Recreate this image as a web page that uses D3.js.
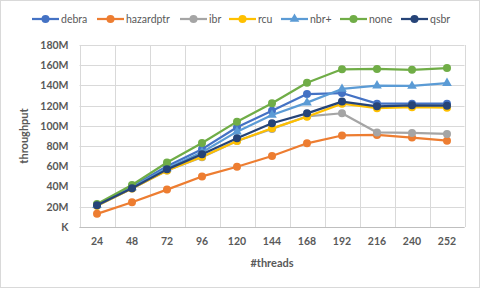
<!DOCTYPE html>
<html><head><meta charset="utf-8">
<script src="https://cdn.jsdelivr.net/npm/d3@7"></script>
<style>body{margin:0;background:#fff}svg{display:block}</style>
</head><body>
<svg id="c" width="480" height="288"></svg>
<script>
const threads = ["24","48","72","96","120","144","168","192","216","240","252"];
const seriesNames = ["debra","hazardptr","ibr","rcu","nbr+","none","qsbr"];
const debra     = [22, 40, 60, 77, 98.6, 115, 131.5, 132.5, 122, 122, 122];
const hazardptr = [13, 24.5, 37, 50, 59.6, 70.2, 82.8, 90.5, 91, 88.5, 85.4];
const ibr       = [21, 38, 56, 69, 85, 97, 109.5, 112.5, 93.5, 93, 92];
const rcu       = [21, 38, 56, 69.5, 85.1, 97.6, 109, 122, 117.5, 118.5, 118];
const nbrPlus   = [21.5, 39, 58, 74, 94.3, 110.8, 123, 136.5, 139.8, 139.5, 142.3];
const none      = [22.7, 41.5, 63.8, 83, 104.2, 122.3, 142.7, 156, 156.3, 155.5, 157.2];
const qsbr      = [21.5, 38.3, 57, 72, 87.7, 102.6, 112.4, 124, 119.3, 120.3, 120];
const yTicks = [0,20,40,60,80,100,120,140,160,180];
const yTickLabels = ["K","20M","40M","60M","80M","100M","120M","140M","160M","180M"];

const seriesValues = [debra, hazardptr, ibr, rcu, nbrPlus, none, qsbr];
const colors = ["#4472C4","#ED7D31","#A5A5A5","#FFC000","#5B9BD5","#70AD47","#264478"];
const markers = ["circle","circle","circle","circle","triangle","circle","circle"];
// legend layout (item left edges in px)
const legendX = [32, 97, 180, 229, 281, 340, 401];

const svg = d3.select("#c");
const font = "Lato, 'Open Sans', sans-serif";
svg.append("rect").attr("x",0.5).attr("y",0.5).attr("width",479).attr("height",287)
  .attr("fill","#fff").attr("stroke","#D9D9D9");

const L=79.5, R=464.5, T=45, B=227;
const x = d3.scaleBand().domain(threads).range([L,R]).padding(0);
const y = d3.scaleLinear().domain([0,180]).range([B,T]);

// grid
const g = svg.append("g");
g.selectAll("line.h").data(yTicks).join("line")
  .attr("x1",L).attr("x2",R).attr("y1",d=>Math.round(y(d))+0.5).attr("y2",d=>Math.round(y(d))+0.5)
  .attr("stroke","#D9D9D9").attr("stroke-width",1);
const vb = threads.map(t=>x(t)).concat([R]);
g.selectAll("line.v").data(vb).join("line")
  .attr("x1",d=>Math.round(d)+0.5).attr("x2",d=>Math.round(d)+0.5).attr("y1",T).attr("y2",B)
  .attr("stroke","#D9D9D9").attr("stroke-width",1);
g.append("line").attr("x1",L).attr("x2",R).attr("y1",Math.round(B)+0.5).attr("y2",Math.round(B)+0.5)
  .attr("stroke","#BFBFBF");

// axes labels
const yAxis = d3.axisLeft(y).tickValues(yTicks).tickFormat((d,i)=>yTickLabels[i]).tickSize(0).tickPadding(11);
const ya = svg.append("g").attr("transform",`translate(${L},0)`).call(yAxis);
ya.select(".domain").remove();
ya.selectAll("text").attr("font-family",font).attr("font-size","10.5px").attr("font-weight","bold").attr("fill","#595959");

const xAxis = d3.axisBottom(x).tickSize(0).tickPadding(11);
const xa = svg.append("g").attr("transform",`translate(0,${B})`).call(xAxis);
xa.select(".domain").remove();
xa.selectAll("text").attr("font-family",font).attr("font-size","10.5px").attr("font-weight","bold").attr("fill","#595959");

svg.append("text").attr("x",(L+R)/2).attr("y",267).attr("text-anchor","middle")
  .attr("font-family",font).attr("font-size","11px").attr("font-weight","bold").attr("fill","#595959").text("#threads");
svg.append("text").attr("transform",`translate(28,${(T+B)/2}) rotate(-90)`).attr("text-anchor","middle")
  .attr("font-family",font).attr("font-size","11px").attr("font-weight","bold").attr("fill","#595959").text("throughput");

// series
const line = d3.line().x((d,i)=>x(threads[i])+x.bandwidth()/2).y(d=>y(d));
const tri = d3.symbol().type(d3.symbolTriangle).size(40);
seriesValues.forEach((vals,si)=>{
  const sg = svg.append("g");
  sg.append("path").attr("d",line(vals)).attr("fill","none").attr("stroke",colors[si]).attr("stroke-width",2.25).attr("stroke-linejoin","round");
  vals.forEach((v,i)=>{
    const cx = x(threads[i])+x.bandwidth()/2, cy=y(v);
    if(markers[si]==="triangle"){
      sg.append("path").attr("d",tri()).attr("transform",`translate(${cx},${cy})`).attr("fill",colors[si]);
    } else {
      sg.append("circle").attr("cx",cx).attr("cy",cy).attr("r",4).attr("fill",colors[si]);
    }
  });
});

// legend
const lg = svg.append("g");
seriesNames.forEach((n,si)=>{
  const it = lg.append("g").attr("transform",`translate(${legendX[si]},19)`);
  it.append("line").attr("x1",0).attr("x2",27).attr("y1",0).attr("y2",0).attr("stroke",colors[si]).attr("stroke-width",2.25);
  if(markers[si]==="triangle") it.append("path").attr("d",tri()).attr("transform","translate(13.5,0)").attr("fill",colors[si]);
  else it.append("circle").attr("cx",13.5).attr("cy",0).attr("r",4).attr("fill",colors[si]);
  it.append("text").attr("x",29).attr("y",4).attr("font-family",font).attr("font-size","10.5px").attr("fill","#595959").text(n);
});
</script>
</body></html>
